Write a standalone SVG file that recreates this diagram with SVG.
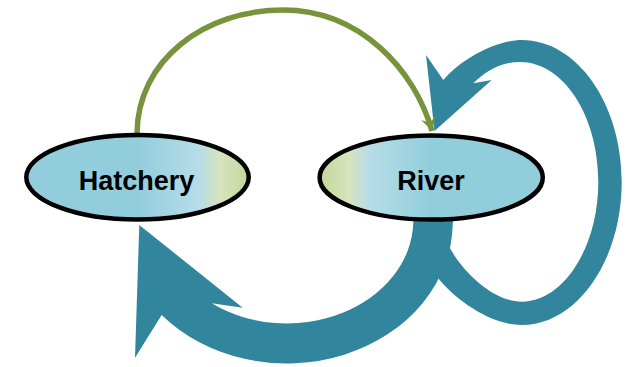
<svg xmlns="http://www.w3.org/2000/svg" width="636" height="367" viewBox="0 0 636 367">
  <style>
    .node-shape { stroke: #000; stroke-width: 4.5; }
    .label { font-family: "Liberation Sans", Arial, sans-serif; font-weight: bold; font-size: 27px; text-anchor: middle; fill: #000; }
    .flow { fill: #31859C; }
    .link { fill: none; stroke: #77933C; stroke-width: 5.5; }
  </style>
  <defs>
    <linearGradient id="fill-hatchery" x1="0" y1="0" x2="1" y2="0">
      <stop offset="0" stop-color="#92CDDC"/>
      <stop offset="0.5" stop-color="#92CDDC"/>
      <stop offset="0.78" stop-color="#B6DDE8"/>
      <stop offset="0.87" stop-color="#D7E4BD"/>
      <stop offset="1" stop-color="#C3D69B"/>
    </linearGradient>
    <linearGradient id="fill-river" x1="0" y1="0" x2="1" y2="0">
      <stop offset="0" stop-color="#C3D69B"/>
      <stop offset="0.13" stop-color="#D7E4BD"/>
      <stop offset="0.22" stop-color="#B6DDE8"/>
      <stop offset="0.5" stop-color="#92CDDC"/>
      <stop offset="1" stop-color="#92CDDC"/>
    </linearGradient>
    <marker id="head-green" markerUnits="userSpaceOnUse" markerWidth="30" markerHeight="30" refX="0" refY="0" orient="auto" overflow="visible">
      <path d="M0,0 L-13.5,-7.5 L-8.5,0 L-13.5,7.5 Z" fill="#77933C"/>
    </marker>
  </defs>

  <g id="connectors">
    <!-- River back into River: self loop on the right -->
    <path class="flow" d="M438.3,278.3 C452,296 488,325 521.7,325 C576.9,325 621.7,260.8 621.7,181.7 C621.7,103.4 576.9,40 521.7,40 C500,40 465,55 443.3,80 L426,55 L434.5,131 L491.7,80 L473.3,83.3 C485,72 500,62 520,62 C563,62 598.3,115 598.3,181.7 C598.3,248 563,301.7 521.7,301.7 C495,301.7 465,275 450,248.3 L452.7,220 L430,220 L430,260 Z"/>
    <!-- River to Hatchery: wide arc underneath -->
    <path class="flow" d="M452.7,220 L413.3,220 L413.3,223.3 A126.6 103.4 0 0 1 211.7,303.3 L242.7,307.7 L139.3,225 L135,357.7 L161.7,315 A166 141.7 0 0 0 452.7,223.3 Z"/>
    <!-- Hatchery to River: thin arc over the top -->
    <path class="link" d="M137,134 C137,60 205,10 283,10 C360,10 415,70 432,131" marker-end="url(#head-green)"/>
  </g>

  <g id="node-hatchery">
    <ellipse class="node-shape" cx="137.5" cy="177.3" rx="111.2" ry="42.3" fill="url(#fill-hatchery)"/>
    <text class="label" x="136.5" y="190">Hatchery</text>
  </g>

  <g id="node-river">
    <ellipse class="node-shape" cx="431.2" cy="177.5" rx="111.6" ry="42.1" fill="url(#fill-river)"/>
    <text class="label" x="431" y="190">River</text>
  </g>
</svg>
